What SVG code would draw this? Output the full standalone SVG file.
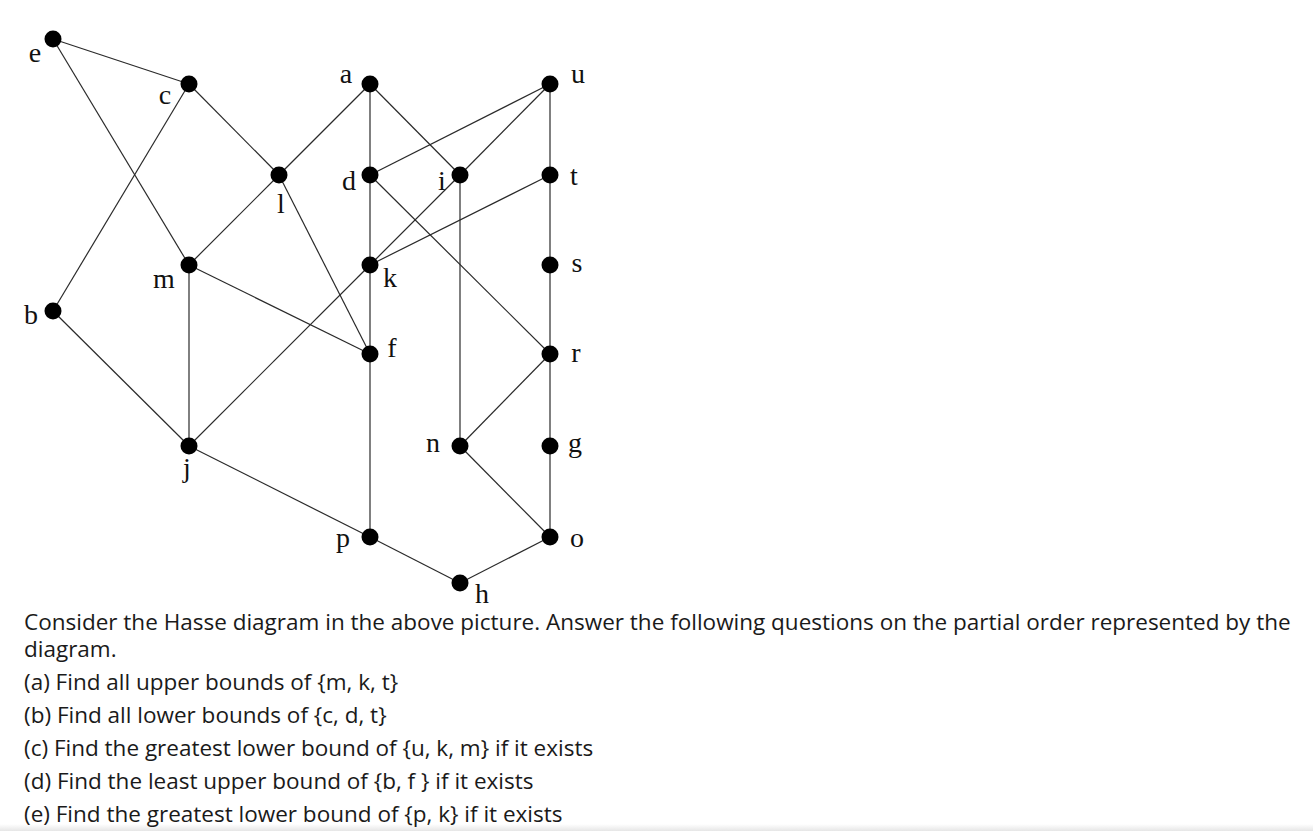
<svg xmlns="http://www.w3.org/2000/svg" width="1313" height="831" viewBox="0 0 1313 831">
<defs>
<style>
.e{stroke:#2a2a2a;stroke-width:1.2;fill:none}
.n{fill:#000}
.lb{font-family:"Liberation Serif","DejaVu Serif",serif;font-size:28px;fill:#111;text-anchor:middle}
.tx{font-family:"Open Sans","Noto Sans",sans-serif;font-size:22.5px;fill:#1a1a1a}
</style>
<linearGradient id="bot" x1="0" y1="0" x2="0" y2="1">
<stop offset="0" stop-color="#ffffff"/>
<stop offset="1" stop-color="#e6e6e6"/>
</linearGradient>
</defs>
<rect width="1313" height="831" fill="#fff"/>
<rect x="0" y="824" width="1313" height="7" fill="url(#bot)"/>
<g id="connectors">
<line class="e" x1="53" y1="39" x2="189" y2="84"/>
<line class="e" x1="53" y1="39" x2="189" y2="265"/>
<line class="e" x1="189" y1="84" x2="53" y2="311"/>
<line class="e" x1="189" y1="84" x2="279" y2="175"/>
<line class="e" x1="370" y1="84" x2="279" y2="175"/>
<line class="e" x1="370" y1="84" x2="370" y2="175"/>
<line class="e" x1="370" y1="84" x2="460" y2="175"/>
<line class="e" x1="550" y1="84" x2="370" y2="175"/>
<line class="e" x1="550" y1="84" x2="460" y2="175"/>
<line class="e" x1="550" y1="84" x2="550" y2="175"/>
<line class="e" x1="279" y1="175" x2="189" y2="265"/>
<line class="e" x1="279" y1="175" x2="370" y2="354"/>
<line class="e" x1="370" y1="175" x2="370" y2="265"/>
<line class="e" x1="370" y1="175" x2="550" y2="354"/>
<line class="e" x1="460" y1="175" x2="370" y2="265"/>
<line class="e" x1="460" y1="175" x2="460" y2="446"/>
<line class="e" x1="550" y1="175" x2="370" y2="265"/>
<line class="e" x1="550" y1="175" x2="550" y2="265"/>
<line class="e" x1="189" y1="265" x2="370" y2="354"/>
<line class="e" x1="189" y1="265" x2="189" y2="446"/>
<line class="e" x1="370" y1="265" x2="370" y2="354"/>
<line class="e" x1="370" y1="265" x2="189" y2="446"/>
<line class="e" x1="550" y1="265" x2="550" y2="354"/>
<line class="e" x1="53" y1="311" x2="189" y2="446"/>
<line class="e" x1="370" y1="354" x2="370" y2="537"/>
<line class="e" x1="550" y1="354" x2="460" y2="446"/>
<line class="e" x1="550" y1="354" x2="550" y2="446"/>
<line class="e" x1="189" y1="446" x2="370" y2="537"/>
<line class="e" x1="460" y1="446" x2="550" y2="537"/>
<line class="e" x1="550" y1="446" x2="550" y2="537"/>
<line class="e" x1="370" y1="537" x2="460" y2="583"/>
<line class="e" x1="550" y1="537" x2="460" y2="583"/>
</g>
<g id="node-e"><circle class="n" cx="53" cy="39" r="8.5"/><text class="lb" x="35" y="62">e</text></g>
<g id="node-c"><circle class="n" cx="189" cy="84" r="8.5"/><text class="lb" x="165" y="104">c</text></g>
<g id="node-a"><circle class="n" cx="370" cy="84" r="8.5"/><text class="lb" x="346" y="83">a</text></g>
<g id="node-u"><circle class="n" cx="550" cy="84" r="8.5"/><text class="lb" x="578" y="83">u</text></g>
<g id="node-l"><circle class="n" cx="279" cy="175" r="8.5"/><text class="lb" x="281" y="213">l</text></g>
<g id="node-d"><circle class="n" cx="370" cy="175" r="8.5"/><text class="lb" x="349" y="190">d</text></g>
<g id="node-i"><circle class="n" cx="460" cy="175" r="8.5"/><text class="lb" x="442" y="190">i</text></g>
<g id="node-t"><circle class="n" cx="550" cy="175" r="8.5"/><text class="lb" x="574" y="185">t</text></g>
<g id="node-m"><circle class="n" cx="189" cy="265" r="8.5"/><text class="lb" x="164" y="288">m</text></g>
<g id="node-k"><circle class="n" cx="370" cy="265" r="8.5"/><text class="lb" x="390" y="287">k</text></g>
<g id="node-s"><circle class="n" cx="550" cy="265" r="8.5"/><text class="lb" x="577" y="272">s</text></g>
<g id="node-b"><circle class="n" cx="53" cy="311" r="8.5"/><text class="lb" x="31" y="324">b</text></g>
<g id="node-f"><circle class="n" cx="370" cy="354" r="8.5"/><text class="lb" x="392" y="357">f</text></g>
<g id="node-r"><circle class="n" cx="550" cy="354" r="8.5"/><text class="lb" x="576" y="362">r</text></g>
<g id="node-j"><circle class="n" cx="189" cy="446" r="8.5"/><text class="lb" x="187" y="477">j</text></g>
<g id="node-n"><circle class="n" cx="460" cy="446" r="8.5"/><text class="lb" x="433" y="452">n</text></g>
<g id="node-g"><circle class="n" cx="550" cy="446" r="8.5"/><text class="lb" x="575" y="452">g</text></g>
<g id="node-p"><circle class="n" cx="370" cy="537" r="8.5"/><text class="lb" x="343" y="547">p</text></g>
<g id="node-o"><circle class="n" cx="550" cy="537" r="8.5"/><text class="lb" x="577" y="547">o</text></g>
<g id="node-h"><circle class="n" cx="460" cy="583" r="8.5"/><text class="lb" x="482" y="603">h</text></g>
<g id="question">
<text class="tx" x="24" y="630">Consider the Hasse diagram in the above picture. Answer the following questions on the partial order represented by the</text>
<text class="tx" x="24" y="657">diagram.</text>
<text class="tx" x="24" y="690">(a) Find all upper bounds of {m, k, t}</text>
<text class="tx" x="24" y="723">(b) Find all lower bounds of {c, d, t}</text>
<text class="tx" x="24" y="756">(c) Find the greatest lower bound of {u, k, m} if it exists</text>
<text class="tx" x="24" y="789">(d) Find the least upper bound of {b, f } if it exists</text>
<text class="tx" x="24" y="822">(e) Find the greatest lower bound of {p, k} if it exists</text>
</g>
</svg>
